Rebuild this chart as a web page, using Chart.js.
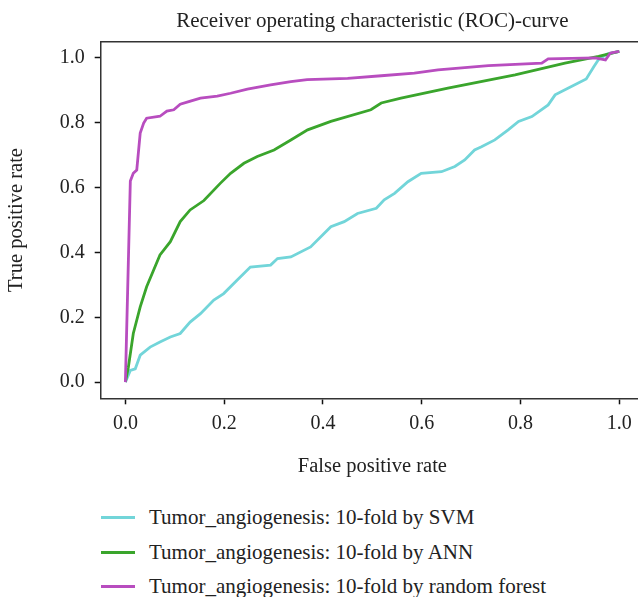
<!DOCTYPE html>
<html>
<head>
<meta charset="utf-8">
<script src="https://cdn.jsdelivr.net/npm/chart.js@4/dist/chart.umd.min.js"></script>
<style>
  html, body { margin: 0; padding: 0; background: #fff; overflow: hidden; }
  #wrap { position: relative; width: 644px; height: 597px; }
  #roc { position: absolute; left: 0; top: 0; }
  .legend-row {
    position: absolute; left: 0; height: 26px; line-height: 26px;
    font-family: "Liberation Serif", serif; font-size: 21px; color: #222;
    white-space: nowrap;
  }
  .legend-row .swatch {
    position: absolute; left: 101px; top: 12px; width: 34px; height: 2.5px;
  }
  .legend-row .label { position: absolute; left: 149px; top: 0; }
</style>
</head>
<body>
<div id="wrap">
  <canvas id="roc" width="644" height="490"></canvas>
  <div id="legend"></div>
</div>
<script>
  // ROC points (false positive rate / true positive rate)
  const svmX = [0, 0.01, 0.02, 0.03, 0.05, 0.07, 0.091, 0.111, 0.131, 0.152, 0.179, 0.199, 0.226, 0.253, 0.294, 0.308, 0.335, 0.375, 0.416, 0.443, 0.47, 0.508, 0.524, 0.545, 0.572, 0.599, 0.64, 0.667, 0.687, 0.707, 0.721, 0.748, 0.775, 0.796, 0.823, 0.856, 0.87, 0.897, 0.933, 0.949, 0.958, 0.975, 1.0];
  const svmY = [0, 0.036, 0.041, 0.083, 0.108, 0.124, 0.139, 0.15, 0.185, 0.211, 0.253, 0.273, 0.314, 0.355, 0.361, 0.381, 0.386, 0.417, 0.479, 0.495, 0.52, 0.536, 0.562, 0.582, 0.618, 0.644, 0.649, 0.665, 0.685, 0.716, 0.726, 0.747, 0.778, 0.804, 0.819, 0.855, 0.886, 0.907, 0.935, 0.974, 0.995, 1.012, 1.02];

  const annX = [0, 0.006, 0.016, 0.03, 0.043, 0.057, 0.07, 0.091, 0.111, 0.131, 0.159, 0.192, 0.213, 0.24, 0.267, 0.301, 0.335, 0.369, 0.416, 0.497, 0.518, 0.558, 0.653, 0.789, 0.89, 0.958, 1.0];
  const annY = [0, 0.046, 0.15, 0.232, 0.294, 0.345, 0.392, 0.433, 0.495, 0.531, 0.56, 0.613, 0.644, 0.675, 0.696, 0.716, 0.747, 0.778, 0.804, 0.84, 0.861, 0.876, 0.907, 0.948, 0.984, 1.005, 1.02];

  const rfX = [0, 0.01, 0.016, 0.023, 0.03, 0.037, 0.043, 0.064, 0.07, 0.084, 0.098, 0.111, 0.13, 0.152, 0.186, 0.213, 0.247, 0.294, 0.335, 0.368, 0.45, 0.518, 0.585, 0.633, 0.735, 0.843, 0.856, 0.951, 0.972, 0.982, 1.0];
  const rfY = [0, 0.62, 0.644, 0.654, 0.768, 0.799, 0.814, 0.819, 0.82, 0.836, 0.84, 0.857, 0.866, 0.876, 0.882, 0.891, 0.904, 0.917, 0.927, 0.933, 0.937, 0.945, 0.953, 0.963, 0.976, 0.984, 0.997, 1.0, 0.994, 1.015, 1.02];

  const seriesNames = [
    'Tumor_angiogenesis: 10-fold by SVM',
    'Tumor_angiogenesis: 10-fold by ANN',
    'Tumor_angiogenesis: 10-fold by random forest'
  ];
  const seriesColors = ['#72d5d9', '#3aa52c', '#b84dbf'];
  const tickVals = [0, 0.2, 0.4, 0.6, 0.8, 1.0];

  const serif = '"Liberation Serif", serif';
  const ink = '#222';

  function pts(xs, ys) {
    return xs.map((x, i) => ({ x: x, y: ys[i] }));
  }

  const datasets = [
    { data: pts(svmX, svmY), order: 3 },
    { data: pts(annX, annY), order: 2 },
    { data: pts(rfX, rfY), order: 1 }
  ].map((d, i) => Object.assign(d, {
    label: seriesNames[i],
    borderColor: seriesColors[i],
    backgroundColor: seriesColors[i],
    borderWidth: 2.8,
    showLine: true,
    pointRadius: 0,
    tension: 0,
    fill: false
  }));

  // matplotlib-like top spine
  const topSpine = {
    id: 'topSpine',
    afterDraw(chart) {
      const a = chart.chartArea;
      const c = chart.ctx;
      c.save();
      c.strokeStyle = '#333';
      c.lineWidth = 1.5;
      c.beginPath();
      c.moveTo(a.left, a.top);
      c.lineTo(a.right, a.top);
      c.stroke();
      c.restore();
    }
  };

  new Chart(document.getElementById('roc'), {
    type: 'scatter',
    data: { datasets: datasets },
    plugins: [topSpine],
    options: {
      responsive: false,
      animation: false,
      layout: { padding: 0 },
      plugins: {
        legend: { display: false },
        tooltip: { enabled: false },
        title: {
          display: true,
          fullSize: false,
          text: 'Receiver operating characteristic (ROC)-curve',
          color: ink,
          font: { family: serif, size: 21, weight: 'normal' },
          padding: { top: 8.4, bottom: 8.1 }
        }
      },
      scales: {
        x: {
          type: 'linear',
          min: -0.05,
          max: 1.05,
          afterFit(scale) { scale.height = 91.7; },
          afterBuildTicks(scale) { scale.ticks = tickVals.map(v => ({ value: v })); },
          ticks: {
            color: ink,
            padding: 7,
            font: { family: serif, size: 20 },
            callback: v => v.toFixed(1)
          },
          grid: { drawOnChartArea: false, drawTicks: true, tickLength: 6, tickColor: '#111', tickWidth: 1.5 },
          border: { display: true, color: '#333', width: 1.5 },
          title: {
            display: true,
            text: 'False positive rate',
            color: ink,
            font: { family: serif, size: 20.5 },
            padding: { top: 0, bottom: 10.7 }
          }
        },
        y: {
          type: 'linear',
          min: -0.05,
          max: 1.05,
          afterFit(scale) { scale.width = 100.7; },
          afterBuildTicks(scale) { scale.ticks = tickVals.map(v => ({ value: v })); },
          ticks: {
            color: ink,
            padding: 10,
            font: { family: serif, size: 20 },
            callback: v => v.toFixed(1)
          },
          grid: { drawOnChartArea: false, drawTicks: true, tickLength: 6, tickColor: '#111', tickWidth: 1.5 },
          border: { display: true, color: '#333', width: 1.5 },
          title: {
            display: true,
            text: 'True positive rate',
            color: ink,
            font: { family: serif, size: 20.5 },
            padding: { top: 4.7, bottom: 0 }
          }
        }
      }
    }
  });

  // legend under the plot, one entry per row
  const legendEl = document.getElementById('legend');
  const rowTops = [504, 539, 573];
  seriesNames.forEach((name, i) => {
    const row = document.createElement('div');
    row.className = 'legend-row';
    row.style.top = rowTops[i] + 'px';
    row.innerHTML = '<span class="swatch" style="background:' + seriesColors[i] + '"></span>' +
      '<span class="label">' + name + '</span>';
    legendEl.appendChild(row);
  });
</script>
</body>
</html>
